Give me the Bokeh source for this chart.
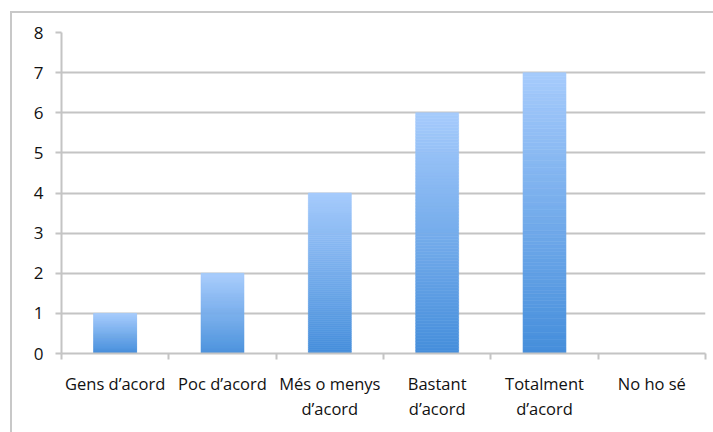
import numpy as np
from bokeh.plotting import figure
from bokeh.models import Range1d, FixedTicker
from bokeh.embed import file_html
from bokeh.resources import INLINE

categories = ["Gens d’acord", "Poc d’acord", "Més o menys\nd’acord", "Bastant\nd’acord", "Totalment\nd’acord", "No ho sé"]
values = [1, 2, 4, 6, 7, 0]
y_ticks = [0, 1, 2, 3, 4, 5, 6, 7, 8]

FONT = "Open Sans"
GRID = "#c4c4c4"
TOP_RGB = np.array([0xa6, 0xcb, 0xfc])
BOT_RGB = np.array([0x45, 0x8e, 0xdb])

n = len(categories)
xs = np.arange(n) + 0.5

p = figure(width=701, height=419, output_backend="svg", toolbar_location=None,
           x_range=Range1d(0, n), y_range=Range1d(0, 8),
           min_border_left=49, min_border_right=10, min_border_top=19, min_border_bottom=81)
p.margin = (11, 0, 0, 10)
p.styles = {"border-left": "2px solid #c8c8c8", "border-top": "2px solid #c8c8c8", "box-sizing": "content-box"}
p.outline_line_color = None
p.background_fill_color = "white"
p.border_fill_color = "white"

# gradient bars: each bar drawn as stacked slices of its own value
N = 80
for i in range(N):
    f0, f1 = i / N, (i + 1) / N
    t = (i + 0.5) / N
    rgb = (BOT_RGB * (1 - t) + TOP_RGB * t).round().astype(int)
    color = "#%02x%02x%02x" % tuple(rgb)
    bottoms = [v * f0 for v in values]
    tops = [v * f1 for v in values]
    p.vbar(x=xs, width=0.4, bottom=bottoms, top=tops, fill_color=color, line_color=color, line_width=0.6)

# x axis
p.xaxis.ticker = FixedTicker(ticks=list(xs), minor_ticks=list(range(n + 1)))
p.xaxis.major_label_overrides = {float(x): c for x, c in zip(xs, categories)}
p.xaxis.major_tick_line_color = None
p.xaxis.minor_tick_line_color = GRID
p.xaxis.minor_tick_line_width = 2
p.xaxis.minor_tick_out = 6
p.xaxis.minor_tick_in = 0
p.xaxis.axis_line_color = GRID
p.xaxis.axis_line_width = 2
p.xaxis.major_label_text_font = FONT
p.xaxis.major_label_text_font_size = "16.5px"
p.xaxis.major_label_text_color = "#111111"
p.xaxis.major_label_standoff = 12
p.xaxis.major_label_text_line_height = 1.12
p.xgrid.grid_line_color = None

# y axis
p.yaxis.ticker = FixedTicker(ticks=y_ticks)
p.yaxis.axis_line_color = GRID
p.yaxis.axis_line_width = 2
p.yaxis.major_tick_line_color = GRID
p.yaxis.major_tick_line_width = 2
p.yaxis.major_tick_out = 6
p.yaxis.major_tick_in = 0
p.yaxis.minor_tick_line_color = None
p.yaxis.major_label_text_font = FONT
p.yaxis.major_label_text_font_size = "17px"
p.yaxis.major_label_text_color = "#111111"
p.yaxis.major_label_standoff = 12
p.ygrid.grid_line_color = GRID
p.ygrid.grid_line_width = 2

open("out.html", "w").write(file_html(p, INLINE))
